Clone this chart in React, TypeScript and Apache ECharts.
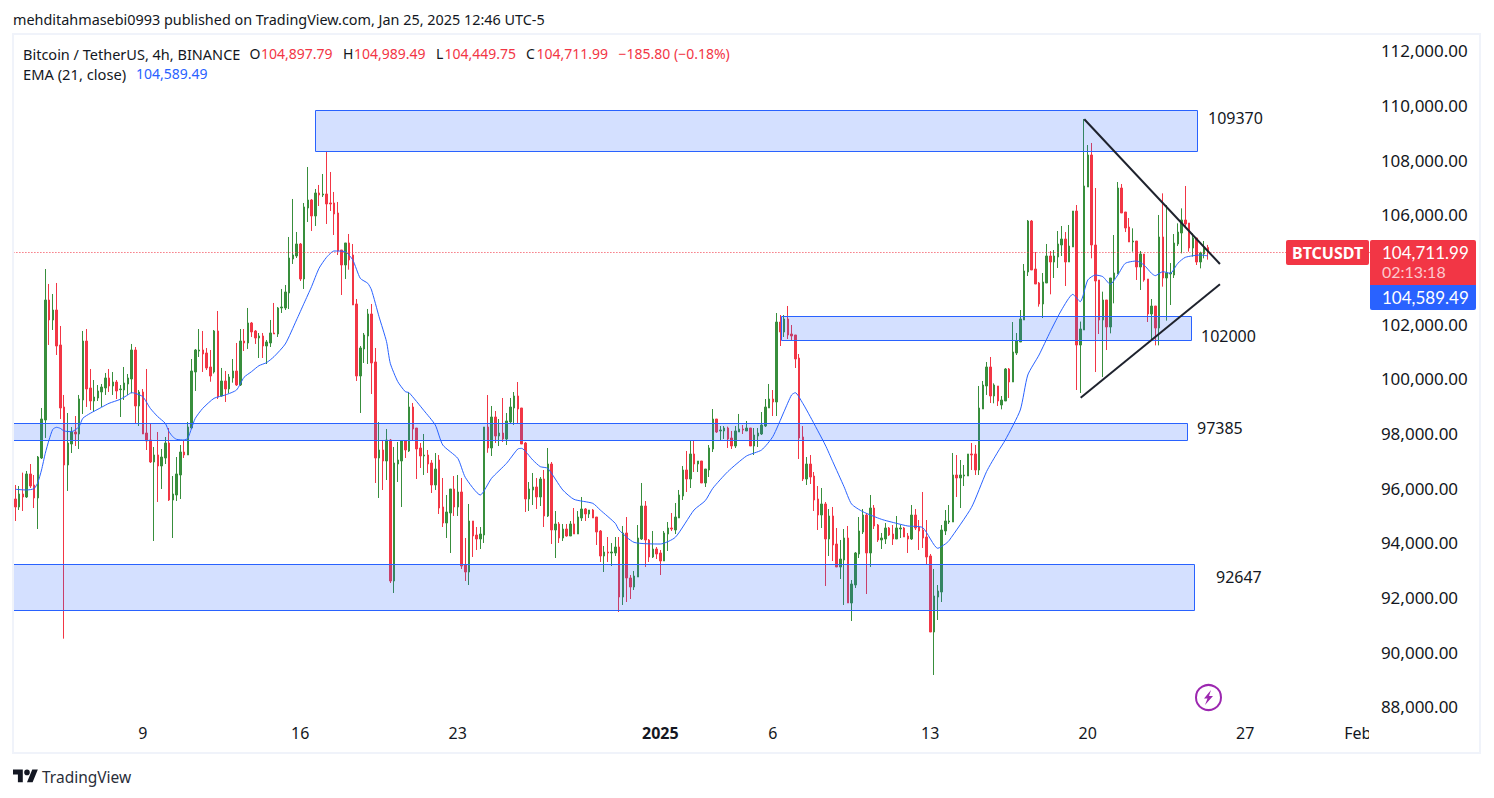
import React, { useEffect, useRef } from "react";
import * as echarts from "echarts";

// Each candle row: open, high, low, close
const candlesA = [
[95610,96122,94805,95317],[95317,96085,95208,95793],[95793,96573,95171,95683],[95683,96634,95647,96525],[96525,96890,96012,96085],
[96122,96488,95280,95647],[95647,97183,94512,97146],[97110,98939,97073,98537],[98500,104024,97842,102890],[102890,103476,101244,102159],
[102159,103110,101793,102524],[102524,103512,100878,101207],[101244,101939,98537,98939],[98976,99415,90500,96854],[96854,98756,95903,97659],
[97622,98244,97293,98061],[98061,98646,97549,97988],[97988,99415,97439,99269],[99232,101756,98720,101390],[101390,101829,98976,99634],
[99671,100366,98866,99195],[99195,99963,98793,99341],[99305,99780,99195,99561],[99525,99817,98976,99707],[99671,100220,99415,100037],
[100037,100366,99525,99744],[99744,100256,99415,99890],[99890,99963,99268,99561],[99610,99780,98610,99634],[99598,100439,99232,99854],
[99817,100183,99415,100037],[100000,101281,99476,101061],[101061,101171,98354,99012],[99012,99598,98280,99524],[99524,99634,97988,97988],
[98024,100366,97402,97732],[97768,98354,96927,96964],[96964,97512,94073,97220],[97220,98061,95500,96817],[96817,97439,95976,97146],
[97110,97878,96890,97659],[97659,98207,95537,95573],[95573,96451,94183,95793],[95756,97146,95537,96525],[96488,97585,95610,97329],
[97329,97768,97110,97220],[97220,98427,97220,98244],[98207,100732,98171,100293],[100256,101098,99561,101061],[101024,101829,100805,101061],
[101061,101756,100256,100914],[100951,101134,100329,100403],
];
const candlesB = [
[100439,101061,99900,100110],[100256,101793,100200,101756],[101756,102488,99268,99342],[99378,100403,99354,99927],[99927,100293,99159,99635],
[99635,100183,99476,100073],[100037,100732,99866,100293],[100293,101317,99744,99781],[99781,101829,99744,101390],[101390,101829,101024,101317],
[101317,102598,101098,102049],[102049,102086,101537,101720],[101756,101793,101281,101500],[101500,101683,100768,101573],[101573,101683,100768,101207],
[101207,101427,100549,101354],[101317,102159,101171,101683],[101683,102781,101647,101647],[101647,102634,101537,102598],[102598,103293,102415,102634],
[102598,103439,102525,103183],[103147,105195,102561,104427],[104390,106586,104208,104537],[104500,105378,104427,104939],[104939,104976,103586,103659],
[103659,106439,103293,106293],[106256,107756,105744,106549],[106549,106586,105415,105964],[105964,106951,105598,106805],[106805,107098,106329,106732],
[106732,107500,106659,106768],[106768,108342,105671,106403],[106439,107573,106147,106403],[106439,106842,105268,106037],[106073,106476,104537,104683],
[104720,104720,103073,104171],[104171,104976,103659,104976],[104976,105305,104000,104354],[104537,104939,102708,102708],[102744,102927,99927,100110],
[100110,101207,98757,101134],[101098,101683,100586,101610],[101573,102561,100549,102378],[102378,102744,99451,100586],[100622,101134,96195,97110],
[97110,98427,95647,97403],[97403,97768,95939,97000],[97000,98171,96305,97768],[97768,97805,92537,92610],[92610,97513,92171,96927],
[96890,97695,96232,97037],[97000,97768,95317,97732],[97732,97768,97110,97403],[97366,99524,97330,98976],
];
const candlesC = [
[98975,99122,97732,98171],[98207,98207,96341,97439],[97475,97658,96744,97183],[97183,97988,96488,97219],[97219,97402,96561,96890],
[96927,97036,95829,96122],[96122,97292,95939,96707],[97036,97219,95061,95280],[95317,96378,94585,94731],[94731,95756,94183,95134],
[95097,95975,93634,95975],[95975,96451,94988,95317],[95317,96488,94988,95866],[95866,96378,93049,93158],[93195,94183,92610,92939],
[92939,95427,92463,94805],[94805,94805,93488,94256],[94292,94585,93744,94146],[94146,94585,93780,94329],[94292,98244,94000,98244],
[98244,99414,97300,97475],[97475,99012,97183,98610],[98610,98829,97658,97914],[97914,98536,97548,98024],[98024,99305,97695,97804],
[97804,98756,97585,98463],[98427,99305,98390,98975],[98939,99524,98317,99378],[99378,99890,98390,98902],[98939,98939,97622,97622],
[97658,97695,95134,95610],[95610,96231,95171,95975],[95939,96561,95390,96049],[96049,96378,95244,95683],[95683,96414,95353,96341],
[96341,96670,94585,94988],[94988,97475,94951,96890],[96890,96963,93963,94475],[94475,95170,93451,94695],[94695,94768,94000,94183],
[94183,94695,94073,94512],[94512,94695,94231,94256],[94256,94805,94256,94695],[94695,95280,94329,94329],[94329,95170,94329,94951],
[94915,95683,94805,95244],[95244,95280,94805,95061],[95061,95207,94915,95207],[95207,95244,94915,94915],[94951,94951,93927,94402],
[94439,94475,93305,93524],[93524,93890,92939,93670],[93670,94219,93305,93634],
];
const candlesD = [
[93634,93998,93158,93671],[93634,94219,93524,93853],[93853,94219,91476,92024],[92024,94622,91732,94366],[94366,94951,91841,92720],
[92720,92829,91951,92390],[92390,92976,92281,92793],[92756,94658,92756,94183],[94146,96195,94110,95354],[95354,95536,93122,94110],
[94110,94146,93305,93488],[93488,94439,93451,93780],[93780,93853,93415,93597],[93634,93744,92829,93341],[93341,94439,93341,94366],
[94329,94768,93707,94549],[94549,95097,94439,94512],[94476,95463,94329,94951],[94915,95939,94915,95756],[95719,96817,95573,96671],
[96671,97366,95866,96341],[96341,97732,96012,97256],[97256,97768,96597,96890],[96890,97000,96597,97000],[97000,97000,96195,96195],
[96195,96707,96049,96707],[96671,97585,96415,97476],[97439,98902,97329,98536],[98536,98536,98024,98061],[98098,98280,97732,98134],
[98098,98280,97805,98207],[98207,98256,97476,97805],[97841,98098,97439,97549],[97549,98280,97476,98098],[98061,98720,98061,98171],
[98171,98317,97988,98134],[98098,98463,98098,98207],[98207,98207,97549,97549],[97549,98207,97219,97951],[97915,98207,97512,98024],
[97988,98792,97951,98317],[98280,99268,98244,98975],[98939,99817,98939,99268],[99268,99597,98646,99158],[99158,102414,98646,102085],
[102085,102341,101207,101719],[101719,102341,101536,102195],[102195,102671,101463,101610],[101646,101975,101427,101573],[101610,101610,100402,100732],
[100768,100914,97073,97841],
];
const candlesE = [
[97878,98280,96268,96341],[96341,97146,96122,96890],[96890,97219,96158,96414],[96451,96597,95171,95573],[95610,96085,94476,95024],
[95024,96012,94549,95427],[95427,95500,92427,94146],[94146,95244,93524,94988],[94988,95317,93341,93927],[93963,94549,93122,93122],
[93122,94110,92683,93414],[93378,94512,91732,94183],[94183,94622,91805,91805],[91805,92646,91146,92500],[92463,93671,92354,93634],
[93597,94951,93451,94439],[94402,95244,94329,95024],[95024,95097,92134,93634],[93634,95756,93122,95280],[95280,95390,94512,94622],
[94658,94695,94037,94110],[94110,94366,93780,94183],[94146,94732,93963,94549],[94549,94585,94256,94293],[94329,94658,93927,94146],
[94146,94988,94146,94549],[94512,94658,94183,94549],[94549,94585,94219,94219],[94256,94366,93634,94146],[94146,95390,94110,95024],
[95024,95244,94476,94549],[94585,94841,93744,94439],[94476,95866,93817,94183],[94219,94841,93232,93488],[93525,93598,90744,90744],
[90744,93049,89171,92061],[92024,92463,91183,92244],[92207,94658,91841,94476],[94439,95207,94293,94805],[94768,95390,94695,94805],
[94768,97293,94768,96488],[96488,97219,95683,96378],[96378,97036,95280,96488],[96451,96854,96085,96488],[96451,97256,96451,97256],
[97256,97658,96671,97219],[97256,97585,96488,96671],[96671,99744,96488,98939],[98902,99927,98902,99780],[99744,100622,99415,100439],
];
const candlesF = [
[100439,100805,99122,99378],[99378,99841,99110,99780],[99744,99744,99012,99195],[99049,99378,98890,99231],[99195,100402,99195,100366],
[100366,100402,99305,99890],[99890,102085,99890,100988],[100951,101683,100878,101390],[101354,102524,101354,102195],[102158,104207,102158,103951],
[103914,105817,103768,105780],[105780,105817,103988,103988],[104024,104646,103475,103475],[103512,103549,102646,102744],[102744,103878,102231,103549],
[103512,104939,103512,104500],[104500,104683,103098,104280],[104280,104719,103695,104500],[104463,105414,104061,104939],[104902,105597,104500,105122],
[105122,105377,103402,104280],[104280,105634,104280,104865],[104829,106146,104829,106146],[106146,106365,99597,101243],[101243,102100,99488,101829],
[101792,109512,101792,107061],[107024,108560,107024,108195],[108195,108634,104414,104902],[104902,106987,100255,103585],[103622,103622,101646,102158],
[102158,103195,100072,102890],[102890,102890,101060,101902],[101902,103695,101670,103695],[103658,105268,102768,103878],[103841,107207,103841,106987],
[106987,107134,106073,106073],[106109,106109,105377,105524],[105560,105890,105012,105012],[105012,105512,104658,105048],[105048,105048,103622,104097],
[104097,104683,103256,104573],[104573,104573,103560,103622],[103658,103658,102085,102378],[102378,102926,101451,102670],[102670,102670,101231,101865],
[101865,106000,101231,105195],[105195,106792,103378,103695],[103695,106365,102134,103878],[103841,104243,102707,103878],[103804,105304,103695,104975],
[104939,105695,104865,105377],[105341,106243,104597,105817],[105817,107061,105572,105670],[105707,105707,104658,104792],[104792,105329,104475,105158],
[105158,105158,104170,104280],[104280,104658,104048,104609],[104573,105048,104414,104829],
];
const lastCandle = [104897.79,104989.49,104449.75,104711.99];

// EMA (21, close): candle index, value
const emaReadings = [
[0,95964],[3,95939],[5,95988],[6,96208],[7,96671],[8,97281],[9,97769],[10,98159],[11,98232],[12,98195],[13,98098],[15,98073],[17,98256],[18,98561],[20,98744],[23,98964],[25,99110],[28,99256],[30,99415],[31,99500],[32,99476],[34,99354],[36,98927],[38,98622],[40,98378],[41,98073],[42,97890],[43,97793],[45,97768],[46,97829],[47,98195],[48,98561],[50,98927],[53,99293],[56,99415],[59,99598],[61,100061],[63,100269],[65,100488],[67,100598],[69,100817],[72,101281],[75,102159],[77,102768],[79,103378],[81,104049],[83,104451],[85,104683],[88,104659],[90,104354],[92,103683],[94,103500],[95,103256],[97,102281],[99,101366],[100,100574],[102,99903],[104,99537],[105,99500],[109,98841],[112,98317],[114,97585],[118,97097],[120,96402],[124,95756],[127,96366],[131,96914],[134,97439],[135,97463],[138,97036],[140,96793],[142,96731],[146,95939],[149,95597],[154,95451],[156,95207],[160,94720],[161,94476],[165,94024],[172,93963],[176,94207],[181,95207],[184,95549],[186,96000],[190,96610],[195,97183],[199,97402],[202,97890],[205,98805],[207,99414],[208,99500],[210,99110],[212,98622],[216,97585],[218,96975],[221,96061],[223,95427],[226,95146],[231,94866],[235,94719],[238,94622],[242,94561],[246,93805],[248,93963],[249,94085],[255,95305],[259,96610],[262,97329],[264,97768],[268,98865],[270,100146],[273,100878],[276,101732],[279,102524],[282,103097],[284,102829],[286,103622],[288,103804],[290,103744],[292,103463],[294,103804],[296,104231],[299,104317],[301,104170],[303,103865],[304,103780],[306,103927],[308,103866],[310,104231],[312,104451],[316,104536],
];
const emaLast = [318,104589.49];

// Zones: first candle index, last candle index, top price, bottom price
const zones = [
[80,315.2,109841,108341],
[204.2,313.4,102305,101445],
[-0.6,312.5,98379,97757],
[-0.6,314.3,93220,91538],
];
const trendUpper = [[285.07,109502],[321.25,104207]];
const trendLower = [[284.1,99316],[321.25,103466]];

const priceTicks = [88000,90000,92000,94000,96000,98000,100000,102000,106000,108000,110000,112000];
const tickIndices = [34,76,118,172,202,244,286,328,358];
const tickLabels = ["9","16","23","2025","6","13","20","27","Feb"];
const slotCount = 362;
const lastClose = 104711.99;
// Readings were taken against the label centres, which sit about 2px above their true price.
const labelBias = 84;

const RED = "#f23645";
const GREEN = "#388e3c";
const BLUE = "#2962ff";
const INK = "#131722";
const FONT = "Noto Sans";

const TV_LOGO = "M14 22H7V11H0V4h14v18zM28 22h-8l7.5-18h8L28 22zM24 8a4 4 0 1 1-8 0a4 4 0 0 1 8 0z";
echarts.graphic.registerShape("tvlogo", echarts.graphic.extendPath(TV_LOGO, {}) as any);

function txt(x: number, y: number, text: string, fill: string, fontSize = 14, fontWeight: any = "normal", fontFamily = FONT) {
  return { type: "text", x, y, z: 60, style: { text, fill, fontSize, fontWeight, fontFamily, verticalAlign: "middle" } };
}

export default function App() {
  const ref = useRef<HTMLDivElement>(null);
  useEffect(() => {
    const chart = echarts.init(ref.current!, undefined, { renderer: "svg" });
    const labels = Array.from({ length: slotCount }, (_, i) => {
      const k = tickIndices.indexOf(i);
      return k >= 0 ? tickLabels[k] : "";
    });
    const read = (v: number) => v + labelBias;
    const candleData = [...candlesA, ...candlesB, ...candlesC, ...candlesD, ...candlesE, ...candlesF]
      .map(([o, h, l, c]) => [read(o), read(c), read(l), read(h)]);
    candleData.push([lastCandle[0], lastCandle[3], lastCandle[2], lastCandle[1]]);
    const emaData = emaReadings.map(([i, v]) => [i, read(v)]).concat([emaLast]);
    const zoneData = zones.map(([a, b, t, u]) => [a, b, read(t), read(u)]);
    const lineData = (pts: number[][]) => pts.map(([i, v]) => [i, read(v)]);
    chart.setOption({
      animation: false,
      backgroundColor: "#ffffff",
      grid: { left: 13.4, top: 35, width: 1357.5, height: 718, containLabel: false },
      xAxis: [
        {
          type: "category",
          data: labels,
          boundaryGap: true,
          axisLine: { show: false },
          axisTick: { show: false },
          splitLine: { show: false },
          axisLabel: {
            inside: true,
            margin: 12,
            color: INK,
            fontSize: 16,
            fontFamily: FONT,
            hideOverlap: false,
            interval: (_: number, v: string) => v !== "",
            formatter: (v: string) => (v === "2025" ? "{b|2025}" : v),
            rich: { b: { fontWeight: "bold", fontSize: 16, fontFamily: FONT, color: INK } },
          },
        },
        { type: "value", show: false, min: -0.5, max: slotCount - 0.5 },
      ],
      yAxis: {
        type: "value",
        position: "right",
        min: 86317 + labelBias,
        max: 112585 + labelBias,
        scale: true,
        axisLine: { show: false },
        axisTick: { show: false },
        splitLine: { show: false },
        axisLabel: {
          customValues: priceTicks,
          color: INK,
          fontSize: 17,
          fontFamily: FONT,
          margin: 10,
          formatter: (v: number) => "{p|" + v.toLocaleString("en-US", { minimumFractionDigits: 2 }) + "}",
          rich: { p: { color: INK, fontSize: 17, fontFamily: FONT, padding: [0, 0, 5, 0] } },
        },
      },
      series: [
        {
          type: "candlestick",
          xAxisIndex: 0,
          yAxisIndex: 0,
          barWidth: 2,
          z: 2,
          data: candleData,
          itemStyle: { color: GREEN, color0: RED, borderColor: GREEN, borderColor0: RED, borderWidth: 1 },
          markLine: {
            silent: true,
            symbol: "none",
            label: { show: false },
            lineStyle: { color: RED, type: [1, 2], width: 1 },
            data: [{ yAxis: lastClose }],
          },
        },
        {
          type: "line",
          name: "EMA",
          xAxisIndex: 1,
          yAxisIndex: 0,
          data: emaData,
          showSymbol: false,
          smooth: 0.2,
          z: 3,
          lineStyle: { color: BLUE, width: 1 },
        },
        {
          type: "custom",
          xAxisIndex: 1,
          yAxisIndex: 0,
          z: 4,
          silent: true,
          encode: { x: [0, 1], y: [2, 3] },
          data: zoneData,
          renderItem: (_: any, api: any) => {
            const a = api.coord([api.value(0), api.value(2)]);
            const b = api.coord([api.value(1), api.value(3)]);
            return {
              type: "rect",
              shape: { x: Math.round(a[0]) + 0.5, y: Math.round(a[1]) + 0.5, width: Math.round(b[0] - a[0]), height: Math.round(b[1] - a[1]) },
              style: { fill: "rgba(41,98,255,0.2)", stroke: BLUE, lineWidth: 1 },
            };
          },
        },
        {
          type: "line", xAxisIndex: 1, yAxisIndex: 0, data: lineData(trendUpper), showSymbol: false, z: 5,
          lineStyle: { color: "#1e222d", width: 2 },
        },
        {
          type: "line", xAxisIndex: 1, yAxisIndex: 0, data: lineData(trendLower), showSymbol: false, z: 5,
          lineStyle: { color: "#1e222d", width: 2 },
        },
      ],
      graphic: [
        { type: "rect", z: 40, shape: { x: 13, y: 34, width: 1467, height: 719 }, style: { fill: "none", stroke: "#f0f3fa", lineWidth: 2 } },
        { type: "rect", z: 50, shape: { x: 1369, y: 722, width: 10, height: 26 }, style: { fill: "#ffffff" } },
        txt(13, 19.5, "mehditahmasebi0993 published on TradingView.com, Jan 25, 2025 12:46 UTC-5", INK, 14.4),
        txt(23, 53.5, "Bitcoin / TetherUS, 4h, BINANCE", INK, 14.5),
        txt(249.5, 53.5, "O", INK, 14),
        txt(261, 53.5, "104,897.79", RED, 14),
        txt(343, 53.5, "H", INK, 14),
        txt(354, 53.5, "104,989.49", RED, 14),
        txt(436, 53.5, "L", INK, 14),
        txt(444.5, 53.5, "104,449.75", RED, 14),
        txt(526, 53.5, "C", INK, 14),
        txt(536.5, 53.5, "104,711.99", RED, 14),
        txt(618.5, 53.5, "\u2212185.80 (\u22120.18%)", RED, 14),
        txt(23, 73.5, "EMA (21, close)", INK, 14.7),
        txt(136, 73.5, "104,589.49", BLUE, 14),
        txt(1208, 117.5, "109370", INK, 16),
        txt(1201, 335.5, "102000", INK, 16),
        txt(1197, 427.5, "97385", INK, 16),
        txt(1216, 576.5, "92647", INK, 16),
        { type: "rect", z: 55, shape: { x: 1286, y: 240, width: 83, height: 25, r: 2 }, style: { fill: RED } },
        txt(1292, 252.5, "BTCUSDT", "#ffffff", 16, "bold"),
        { type: "rect", z: 55, shape: { x: 1370, y: 240, width: 106, height: 45, r: [2, 2, 0, 0] }, style: { fill: RED } },
        { type: "rect", z: 55, shape: { x: 1370, y: 285, width: 106, height: 25, r: [0, 0, 2, 2] }, style: { fill: BLUE } },
        txt(1382, 252, "104,711.99", "#ffffff", 17, "normal", "Lato"),
        txt(1382, 271.5, "02:13:18", "#fcc8cd", 16, "normal", "Lato"),
        txt(1382, 297, "104,589.49", "#ffffff", 17, "normal", "Lato"),
        { type: "circle", z: 60, shape: { cx: 1208.5, cy: 697.5, r: 12.5 }, style: { fill: "#ffffff", stroke: "#9c27b0", lineWidth: 2 } },
        { type: "polygon", z: 61, shape: { points: [[1211, 690], [1204, 698.5], [1207.5, 698.5], [1205, 705], [1213, 696], [1209, 696]] }, style: { fill: "#9c27b0" } },
        { type: "tvlogo", z: 60, x: 13, y: 766.8, scaleX: 0.7, scaleY: 0.7, style: { fill: INK } },
        txt(42, 776.5, "TradingView", "#2a2e39", 15.5),
      ],
    });
    return () => chart.dispose();
  }, []);
  return <div ref={ref} style={{ position: "fixed", left: 0, top: 0, width: 1494, height: 798, background: "#fff" }} />;
}
